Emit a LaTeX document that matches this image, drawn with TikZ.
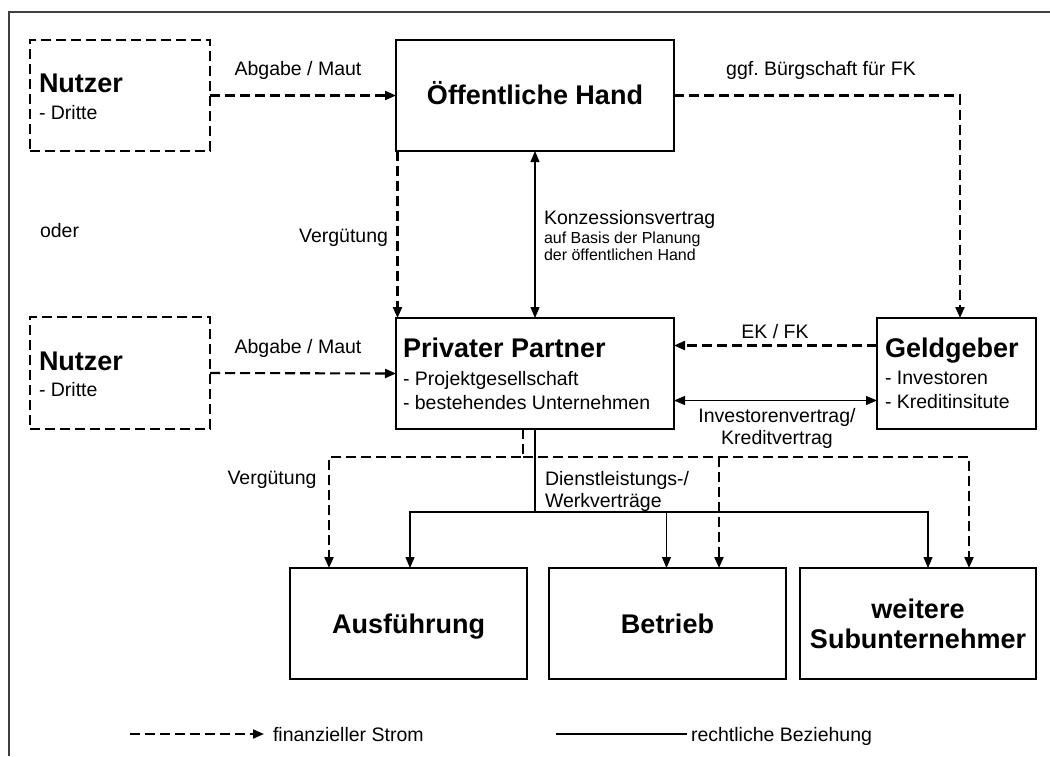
\documentclass[tikz,border=0pt]{standalone}
\usepackage{fontspec}
\setmainfont{Liberation Sans}
\usetikzlibrary{arrows.meta}
\frenchspacing

\tikzset{
  x=1pt, y=-1pt,
  every node/.style={inner sep=0pt, outer sep=0pt},
  box/.style={draw=black, line width=1.3pt, rectangle},
  dbox/.style={draw=black, line width=2.1pt, rectangle, dash pattern=on 10pt off 5pt},
  fin/.style={line width=2.1pt, dash pattern=on 10pt off 5pt},
  rel/.style={line width=1.2pt},
  tip/.style={-{Triangle[length=11pt,width=9pt]}},
  both/.style={{Triangle[length=11pt,width=9pt]}-{Triangle[length=11pt,width=9pt]}},
  lbl/.style={font=\fontsize{19.5}{23}\selectfont, text height=14pt, text depth=0pt},
  small/.style={font=\fontsize{16}{19}\selectfont, text height=11.5pt, text depth=0pt},
  title/.style={font=\fontsize{27}{31}\bfseries\selectfont, text height=19.3pt, text depth=0pt},
  frame/.style={draw=black!75, line width=1.8pt},
}

\begin{document}
\begin{tikzpicture}
\useasboundingbox (0,0) rectangle (1050,756);

% outer frame (top and left edges)
\draw[frame] (9,756) -- (9,12) -- (1050,12);

% boxes
\node[dbox, minimum width=180, minimum height=111] (nutz1) at (120,95.5) {};
\node[box,  minimum width=278, minimum height=111] (oeff)  at (535,95.5) {};
\node[dbox, minimum width=180, minimum height=112] (nutz2) at (120,373) {};
\node[box,  minimum width=278, minimum height=111] (priv)  at (535,373.5) {};
\node[box,  minimum width=159, minimum height=111] (geld)  at (956.5,373.5) {};
\node[box,  minimum width=237, minimum height=111] (ausf)  at (408.5,623.5) {};
\node[box,  minimum width=237, minimum height=111] (betr)  at (667.5,623.5) {};
\node[box,  minimum width=236, minimum height=111] (weit)  at (918,623.5) {};

% box texts
\node[title, anchor=west] (t-nutz1) at (39,83) {Nutzer};
\node[lbl,   anchor=west] (s-nutz1) at (39,112) {- Dritte};
\node[title] (t-oeff) at (535,95) {Öffentliche Hand};
\node[title, anchor=west] (t-nutz2) at (39,361) {Nutzer};
\node[lbl,   anchor=west] (s-nutz2) at (39,389) {- Dritte};
\node[title, anchor=west] (t-priv) at (403,348) {Privater Partner};
\node[lbl,   anchor=west] (s-priv1) at (403,378) {- Projektgesellschaft};
\node[lbl,   anchor=west] (s-priv2) at (403,402) {- bestehendes Unternehmen};
\node[title, anchor=west] (t-geld) at (885,348) {Geldgeber};
\node[lbl,   anchor=west] (s-geld1) at (885,377) {- Investoren};
\node[lbl,   anchor=west] (s-geld2) at (885,401) {- Kreditinsitute};
\node[title] (t-ausf) at (408.5,624) {Ausführung};
\node[title] (t-betr) at (667.5,624) {Betrieb};
\node[title] (t-weit1) at (918,609) {weitere};
\node[title] (t-weit2) at (918,639) {Subunternehmer};

% financial flows (dashed)
\draw[fin,tip] (nutz1.east) -- (oeff.west);
\draw[fin,tip] (nutz2.east) -- (priv.west);
\draw[fin,tip] (oeff.east) -| ([xshift=3.5pt]geld.north);
\draw[fin,tip] ([xshift=1.5pt]oeff.south west) -- ([xshift=1.5pt]priv.north west);
\draw[fin,tip] ([yshift=28pt]geld.west) -- ([yshift=28pt]priv.east);

\coordinate (fsplit) at (523,457);
\draw[fin,tip] ([xshift=-12pt]priv.south) -- (fsplit) -| ([xshift=-79.5pt]ausf.north);
\draw[fin,tip] (fsplit) -| ([xshift=51pt]weit.north);
\draw[fin,tip] ([xshift=51.5pt]betr.north |- fsplit) -- ([xshift=51.5pt]betr.north);

% legal relations (solid)
\draw[rel,both] (priv.north) -- (oeff.south);
\draw[rel,both] ([yshift=-27pt]priv.east) -- ([yshift=-27pt]geld.west);

\coordinate (rsplit) at (535,512);
\draw[rel] (priv.south) -- (rsplit);
\draw[rel,tip] (rsplit) -| ([xshift=1.5pt]ausf.north);
\draw[rel,tip] (rsplit) -| ([xshift=-1pt]betr.north);
\draw[rel,tip] (rsplit) -| ([xshift=10pt]weit.north);

% connector labels
\node[lbl] (l-abg1) at (298,68) {Abgabe / Maut};
\node[lbl] (l-ggf) at (821,68) {ggf. Bürgschaft für FK};
\node[lbl, anchor=east] (l-verg1) at (388,235) {Vergütung};
\node[lbl, anchor=west] (l-oder) at (40,230) {oder};
\node[lbl, anchor=west] (l-konz) at (544,217) {Konzessionsvertrag};
\node[small, anchor=west] (l-konz2) at (544,238) {auf Basis der Planung};
\node[small, anchor=west] (l-konz3) at (544,255) {der öffentlichen Hand};
\node[lbl] (l-abg2) at (298,346) {Abgabe / Maut};
\node[lbl] (l-ekfk) at (775,331) {EK / FK};
\node[lbl] (l-inv1) at (777,415) {Investorenvertrag/};
\node[lbl] (l-inv2) at (777,437) {Kreditvertrag};
\node[lbl] (l-verg2) at (272,477) {Vergütung};
\node[lbl, anchor=west] (l-dl1) at (545,478) {Dienstleistungs-/};
\node[lbl, anchor=west] (l-dl2) at (545,500) {Werkverträge};

% legend
\coordinate (leg-f) at (130,734);
\node[lbl, anchor=west] (leg-ft) at (273,734) {finanzieller Strom};
\draw[fin,tip] (leg-f) -- ([xshift=-9pt]leg-ft.west);
\coordinate (leg-r) at (556,734);
\node[lbl, anchor=west] (leg-rt) at (691,734) {rechtliche Beziehung};
\draw[rel] (leg-r) -- ([xshift=-4pt]leg-rt.west);
\end{tikzpicture}
\end{document}
